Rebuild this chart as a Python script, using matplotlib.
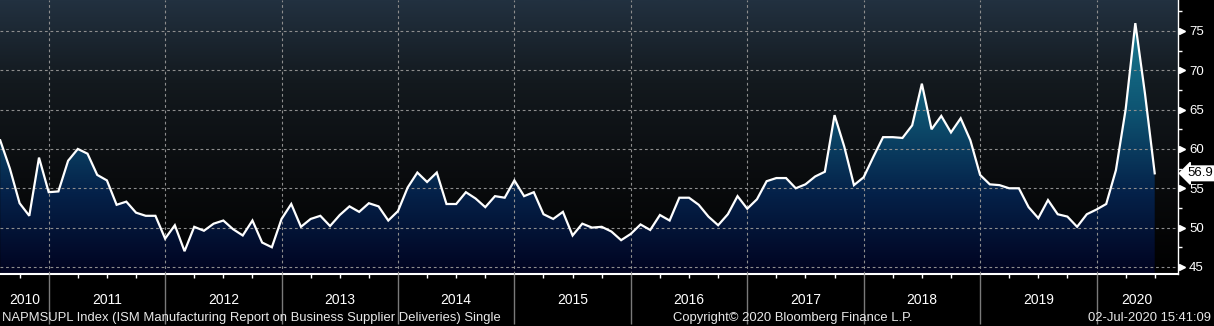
import numpy as np
import matplotlib
matplotlib.use("Agg")
import matplotlib.pyplot as plt
from matplotlib.colors import LinearSegmentedColormap
from matplotlib import transforms

# ISM supplier deliveries, monthly Jul 2010 .. Jun 2020
values = [
    61.1, 57.5, 53.1, 51.5, 58.9, 54.5,                               # Jul-Dec 2010
    54.6, 58.5, 60.0, 59.4, 56.7, 56.0, 52.9, 53.3, 51.9, 51.5, 51.5, 48.6,  # 2011
    50.3, 47.0, 50.1, 49.6, 50.5, 50.9, 49.8, 49.0, 50.9, 48.1, 47.5, 51.1,  # 2012
    53.0, 50.1, 51.1, 51.5, 50.2, 51.6, 52.7, 52.0, 53.1, 52.7, 50.9, 52.1,  # 2013
    55.1, 57.0, 55.8, 57.0, 53.0, 53.0, 54.5, 53.7, 52.6, 54.0, 53.8, 56.0,  # 2014
    54.0, 54.5, 51.7, 51.1, 52.0, 49.0, 50.5, 50.0, 50.1, 49.5, 48.4, 49.2,  # 2015
    50.4, 49.7, 51.6, 50.9, 53.8, 53.8, 52.9, 51.4, 50.3, 51.7, 54.0, 52.4,  # 2016
    53.6, 55.9, 56.3, 56.3, 55.0, 55.5, 56.5, 57.1, 64.3, 60.3, 55.4, 56.4,  # 2017
    59.0, 61.5, 61.5, 61.4, 63.0, 68.3, 62.5, 64.2, 62.1, 63.9, 61.1, 56.7,  # 2018
    55.5, 55.4, 55.0, 55.0, 52.6, 51.2, 53.5, 51.7, 51.4, 50.1, 51.7, 52.3,  # 2019
    53.0, 57.3, 65.0, 76.0, 67.0, 56.9,                               # Jan-Jun 2020
]
years = list(range(2010, 2021))
y_ticks = [45, 50, 55, 60, 65, 70, 75]
last_label = "56.9"
series_name = "NAPMSUPL Index (ISM Manufacturing Report on Business Supplier Deliveries) Single"
copyright_text = "Copyright\u00a9 2020 Bloomberg Finance L.P."
stamp = "02-Jul-2020 15:41:09"

# x = months since Jan 2011, each point sits at month end
x = np.arange(len(values)) - 5
y = np.array(values)
xmin, xmax = -5.02, 116.4
ymin, ymax = 44.1, 78.94

font = ["Liberation Sans", "DejaVu Sans"]

fig = plt.figure(figsize=(12.14, 3.26), dpi=100, facecolor="black")
ax = fig.add_axes([0, 52 / 326, 1178 / 1214, 274 / 326])
ax.set_xlim(xmin, xmax)
ax.set_ylim(ymin, ymax)

# background gradient
bg = LinearSegmentedColormap.from_list("bg", [(0.0, "#000000"), (0.35, "#0a0c0e"),
                                              (0.7, "#13191e"), (1.0, "#223140")])
grad = np.linspace(0, 1, 256).reshape(-1, 1)
ax.imshow(grad, cmap=bg, origin="lower", aspect="auto",
          extent=(xmin, xmax, ymin, ymax), zorder=0)

# area gradient clipped to the filled region
fillmap = LinearSegmentedColormap.from_list("fill", [(0.0, "#010320"), (0.3, "#05224a"),
                                                    (0.6, "#0e5472"), (1.0, "#1a8499")])
poly = ax.fill_between(x, y, ymin, color="none")
im = ax.imshow(grad, cmap=fillmap, origin="lower", aspect="auto",
               extent=(xmin, xmax, ymin, ymax), zorder=1)
im.set_clip_path(poly.get_paths()[0], transform=ax.transData)

ax.plot(x, y, color="white", lw=1.6, zorder=3, solid_joinstyle="miter")

# grid
ax.set_axisbelow(False)
ax.grid(True, which="major", color="#8e8e8e", lw=0.8, ls=(0, (2.5, 2.5)))

# spines
for s in ["top", "left"]:
    ax.spines[s].set_visible(False)
ax.spines["bottom"].set_color("white")
ax.spines["bottom"].set_linewidth(1.5)
ax.spines["right"].set_color("white")
ax.spines["right"].set_linewidth(1.0)

# y axis on the right
ax.yaxis.tick_right()
ax.set_yticks(y_ticks)
ax.set_yticks(np.arange(47.5, 78, 5), minor=True)
ax.tick_params(axis="y", which="major", length=4, width=1, color="white",
               labelcolor="white", labelsize=9.5, pad=4)
ax.tick_params(axis="y", which="minor", length=3, width=1, color="white")
for lab in ax.get_yticklabels():
    lab.set_family(font)
tri = transforms.blended_transform_factory(ax.transAxes, ax.transData) + \
    transforms.ScaledTranslation(4 / 100, 0, fig.dpi_scale_trans)
ax.plot([1.0] * len(y_ticks), y_ticks, ls="", marker=">", ms=5, color="white",
        transform=tri, clip_on=False, zorder=5)

# x axis: year separators and quarter ticks
ax.set_xticks(np.arange(0, 109, 12))
ax.set_xticks(np.arange(-3, 116, 3), minor=True)
ax.tick_params(axis="x", which="major", length=36, width=1, color="#7a7a7a",
               labelbottom=False)
ax.tick_params(axis="x", which="minor", length=3, width=1, color="white")

lab_tr = transforms.blended_transform_factory(ax.transData, fig.transFigure)
for yr in years:
    a = max((yr - 2011) * 12, xmin)
    b = min((yr - 2010) * 12, xmax)
    ax.text((a + b) / 2, 1 - 300 / 326, str(yr), transform=lab_tr, ha="center",
            va="center", color="white", fontsize=10, family=font)

# last value tag
tag_tr = transforms.blended_transform_factory(ax.transAxes, ax.transData)
ax.annotate(last_label, xy=(1.0, y[-1]), xycoords=tag_tr, xytext=(9, 0),
            textcoords="offset pixels", ha="left", va="center", fontsize=9.5,
            color="black", family=font,
            bbox=dict(boxstyle="larrow,pad=0.1", fc="white", ec="white"),
            annotation_clip=False, zorder=6)

# footer
fy = 1 - 318 / 326
fig.text(2 / 1214, fy, series_name, ha="left", va="center",
         color="#e8e8e8", fontsize=9.4, family=font)
fig.text(793 / 1214, fy, copyright_text, ha="center", va="center",
         color="#e8e8e8", fontsize=9.4, family=font)
fig.text(1211 / 1214, fy, stamp, ha="right", va="center",
         color="#e8e8e8", fontsize=9.4, family=font)

fig.savefig("out.png", dpi=100, facecolor="black")
